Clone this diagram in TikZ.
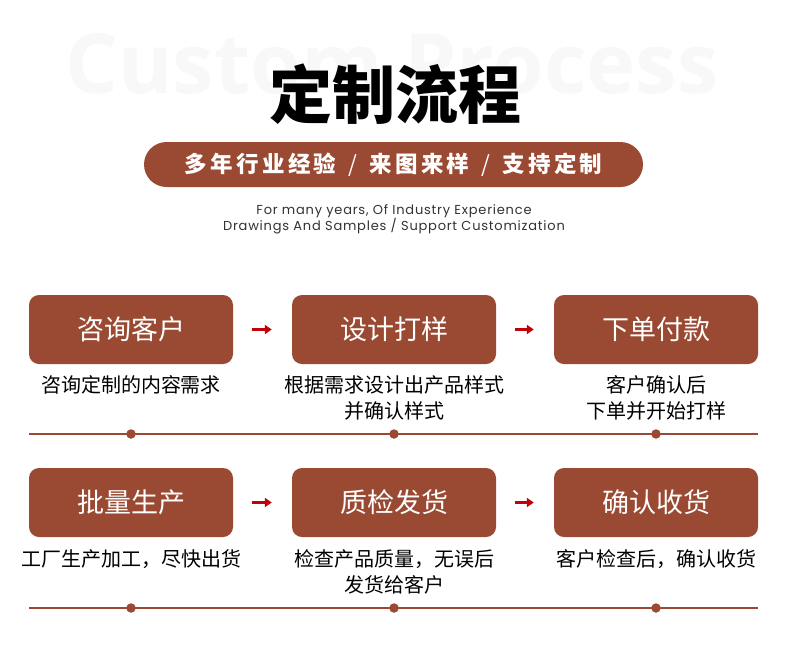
\documentclass[tikz,border=0pt]{standalone}
\usepackage{fontspec}
\setmainfont{Noto Sans CJK SC}
\newfontfamily\cjk{Noto Sans CJK SC}
\newfontfamily\cjkspaced[LetterSpace=15]{Noto Sans CJK SC}
\newfontfamily\wmfont{Open Sans}
\newfontfamily\enfont[LetterSpace=6]{Poppins}
\usetikzlibrary{arrows.meta}
\definecolor{brick}{RGB}{154,74,50}
\definecolor{arrred}{RGB}{192,0,10}
\definecolor{wmgray}{RGB}{248,248,248}
\definecolor{engray}{RGB}{51,51,51}
\tikzset{
  stepbox/.style={fill=brick, rounded corners=10pt, minimum width=204pt, minimum height=69pt,
    inner sep=0pt, text=white, font=\cjk\fontsize{27}{27}\selectfont},
  desc/.style={align=center, inner sep=0pt, text=black, font=\cjk\fontsize{20}{26}\selectfont},
  arr/.style={draw=arrred, line width=2.4pt, -{Triangle[length=7pt,width=9pt]}, shorten <=19pt, shorten >=20pt},
  rule/.style={draw=brick, line width=1.5pt},
  dotmark/.style={circle, fill=brick, minimum size=9.5pt, inner sep=0pt}
}
\newcommand{\bslash}{\hspace{12pt}{\mdseries/}\hspace{12pt}}
\begin{document}
\begin{tikzpicture}[x=1pt,y=-1pt]
\useasboundingbox (0,0) rectangle (790,657);
\fill[white] (0,0) rectangle (790,657);
% watermark
\node[text=wmgray, font=\wmfont\bfseries\fontsize{83}{83}\selectfont, inner sep=0pt] (wm) at (392,64) {Custom Process};
% title
\node[font=\cjk\bfseries\fontsize{63}{63}\selectfont, inner sep=0pt] (title) at (395,94) {定制流程};
% banner
\node[fill=brick, rounded corners=22.5pt, minimum width=499pt, minimum height=45pt, inner sep=0pt,
  text=white, font=\cjkspaced\bfseries\fontsize{22.5}{22.5}\selectfont] (banner) at (393.5,164.5) {多年行业经验\bslash 来图来样\bslash 支持定制};
% english
\node[align=center, text=engray, font=\enfont\fontsize{13}{16}\selectfont, inner sep=0pt] (en) at (394,219)
  {For many years, Of Industry Experience\\Drawings And Samples / Support Customization};
% row 1
\node[stepbox] (b1) at (131,329.5) {咨询客户};
\node[stepbox] (b2) at (394,329.5) {设计打样};
\node[stepbox] (b3) at (656,329.5) {下单付款};
\draw[arr] (b1) -- (b2);
\draw[arr] (b2) -- (b3);
\node[desc] (t1) at (131,385) {咨询定制的内容需求};
\node[desc] (t2) at (394,398) {根据需求设计出产品样式\\并确认样式};
\node[desc] (t3) at (656,398) {客户确认后\\下单并开始打样};
\coordinate (l1a) at (29,434);
\coordinate (l1b) at (758,434);
\draw[rule] (l1a) -- (l1b);
\node[dotmark] (d1) at (131,434) {};
\node[dotmark] (d2) at (394,434) {};
\node[dotmark] (d3) at (656,434) {};
% row 2
\node[stepbox] (b4) at (131,502.5) {批量生产};
\node[stepbox] (b5) at (394,502.5) {质检发货};
\node[stepbox] (b6) at (656,502.5) {确认收货};
\draw[arr] (b4) -- (b5);
\draw[arr] (b5) -- (b6);
\node[desc] (t4) at (131,559) {工厂生产加工，尽快出货};
\node[desc] (t5) at (394,572) {检查产品质量，无误后\\发货给客户};
\node[desc] (t6) at (656,559) {客户检查后，确认收货};
\coordinate (l2a) at (29,608);
\coordinate (l2b) at (758,608);
\draw[rule] (l2a) -- (l2b);
\node[dotmark] (d4) at (131,608) {};
\node[dotmark] (d5) at (394,608) {};
\node[dotmark] (d6) at (656,608) {};
\end{tikzpicture}
\end{document}
